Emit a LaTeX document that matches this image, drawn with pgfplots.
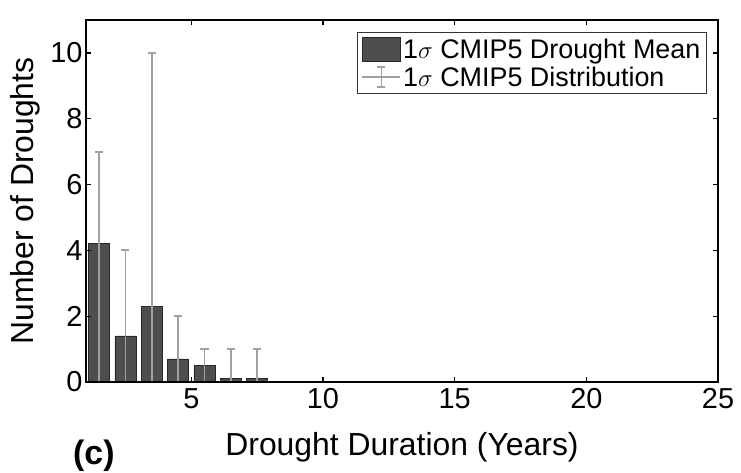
\documentclass[border=0pt]{standalone}
\usepackage{fontspec}
\setmainfont{Liberation Sans}
\usepackage{pgfplots}
\usepackage{pgfplotstable}
\pgfplotsset{compat=1.18}
\pgfplotstableread{
x   y   ep  em
1.5 4.2 2.8 4.2
2.5 1.4 2.6 1.4
3.5 2.3 7.7 2.3
4.5 0.7 1.3 0.7
5.5 0.5 0.5 0.5
6.5 0.1 0.9 0.1
7.5 0.1 0.9 0.1
}\droughts
\definecolor{barfill}{RGB}{78,78,78}
\definecolor{baredge}{RGB}{40,40,40}
\definecolor{errgray}{RGB}{160,160,160}
\begin{document}
\begin{tikzpicture}
\useasboundingbox (-86bp,-91bp) rectangle (655bp,382bp);
\begin{axis}[
 at={(0,0)}, anchor=south west,
 scale only axis, width=632bp, height=362bp,
 xmin=1, xmax=25, ymin=0, ymax=11,
 xtick={5,10,15,20,25}, ytick={0,2,...,10},
 tick align=inside, major tick length=5bp,
 axis line style={line width=1.5bp},
 tick style={line width=1.3bp, black},
 axis on top,
 /pgf/number format/assume math mode=true,
 ticklabel style={font=\fontsize{29}{32}\selectfont},
 xticklabel style={yshift=-3bp},
 xlabel={Drought Duration (Years)},
 ylabel={Number of Droughts},
 label style={font=\fontsize{32}{36}\selectfont},
 xlabel style={at={(axis description cs:0.5,-0.2017)}, anchor=base},
 ylabel style={at={(axis description cs:-0.0728,0.5)}, anchor=south, inner sep=0pt},
 legend style={at={(axis description cs:1,1)}, anchor=north east, xshift=-11bp, yshift=-12bp,
   font=\fontsize{27}{30}\selectfont, draw=black!80, line width=1.2bp, inner sep=4bp, row sep=3bp,
   nodes={inner sep=2bp}},
 legend cell align=left,
]
\addplot[ybar, bar width=0.8, fill=barfill, draw=baredge, line width=0.8bp,
  legend image code/.code={\fill[barfill, draw=baredge] (0bp,-12bp) rectangle (38bp,12bp);}]
  table[x=x, y=y] {\droughts};
\addlegendentry{1$\sigma$ CMIP5 Drought Mean}
\addplot[draw=none, mark=none,
  legend image code/.code={
  \draw[errgray, line width=1.3bp] (0bp,0bp) -- (38bp,0bp);
  \draw[errgray, line width=1.3bp] (19bp,-10bp) -- (19bp,10bp);
  \draw[errgray, line width=1.3bp] (15bp,-10bp) -- (23bp,-10bp);
  \draw[errgray, line width=1.3bp] (15bp,10bp) -- (23bp,10bp);},
  error bars/.cd, y dir=both, y explicit,
  error bar style={draw=errgray, line width=1.8bp},
  error mark options={rotate=90, mark size=4bp, draw=errgray, line width=1.8bp}]
  table[x=x, y=y, y error plus=ep, y error minus=em] {\droughts};
\addlegendentry{1$\sigma$ CMIP5 Distribution}
\end{axis}
\node[anchor=base west, font=\fontsize{34}{40}\selectfont\bfseries, inner sep=0pt] at (-13bp,-82bp) {(c)};
\end{tikzpicture}
\end{document}
